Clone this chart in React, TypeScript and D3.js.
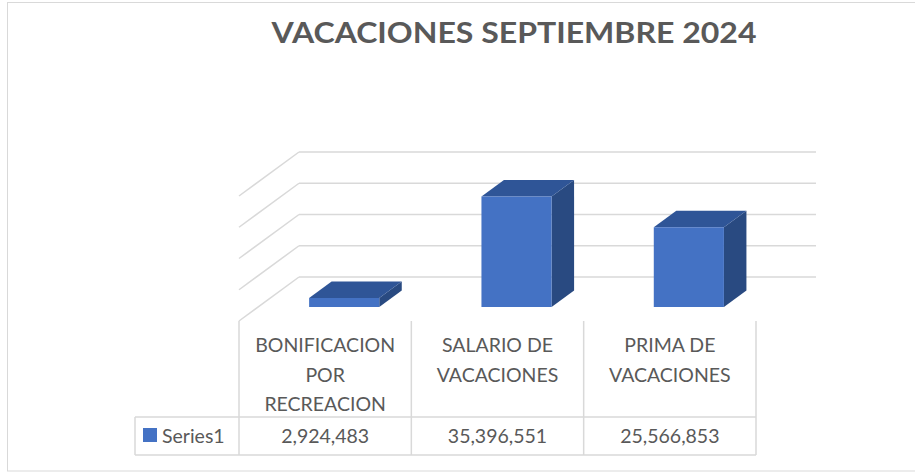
import React from "react";
import * as d3 from "d3";

const title = "VACACIONES SEPTIEMBRE 2024";
const categories = ["BONIFICACION POR RECREACION", "SALARIO DE VACACIONES", "PRIMA DE VACACIONES"];
const categoryLines = [["BONIFICACION", "POR", "RECREACION"], ["SALARIO DE", "VACACIONES"], ["PRIMA DE", "VACACIONES"]];
const seriesName = "Series1";
const values = [2924483, 35396551, 25566853];
const yTicks = [0, 10000000, 20000000, 30000000, 40000000];

const W = 915;
const H = 472;
const FONT = "Lato, 'Noto Sans', sans-serif";
const TEXT = "#595959";
const GRID = "#D9D9D9";
const FRONT = "#4472C4";
const TOP = "#2F5597";
const SIDE = "#294A81";

export default function App() {
  // front plane of floor: x from 239 to 756, depth vector (60,-44)
  const x = d3.scaleBand<string>().domain(categories).range([239, 756]);
  const yBack = d3.scaleLinear().domain([0, 40000000]).range([277, 152]);
  const DX = 60;
  const DY = -44;
  const proj = (px: number, v: number, d: number): [number, number] => [
    px + DX * d,
    yBack(v) - DY + DY * d,
  ];
  const d0 = 0.317;
  const d1 = 0.692;
  const bw = x.bandwidth() * 0.407;
  const fmt = d3.format(",");

  const bars = categories.map((c, i) => {
    const cx = (x(c) as number) + x.bandwidth() / 2;
    const xl = cx - bw / 2;
    const xr = cx + bw / 2;
    const v = values[i];
    const p = (px: number, val: number, d: number) => proj(px, val, d).join(",");
    const front = [p(xl, 0, d0), p(xr, 0, d0), p(xr, v, d0), p(xl, v, d0)].join(" ");
    const top = [p(xl, v, d0), p(xr, v, d0), p(xr, v, d1), p(xl, v, d1)].join(" ");
    const side = [p(xr, 0, d0), p(xr, 0, d1), p(xr, v, d1), p(xr, v, d0)].join(" ");
    return { c, front, top, side };
  });

  const [x0, x1] = x.range();
  const tableTop = proj(x0, 0, 0)[1];
  const rowY = 417;
  const tableBottom = 455;
  const labelLeft = 135;

  return (
    <svg
      width={W}
      height={H}
      viewBox={`0 0 ${W} ${H}`}
      style={{ position: "absolute", left: 0, top: 0, background: "#fff" }}
    >
      <rect x={7.5} y={2.5} width={W} height={468.5} fill="#fff" stroke={GRID} strokeWidth={1} />
      <text
        x={514}
        y={43}
        textAnchor="middle"
        fontFamily={FONT}
        fontWeight={700}
        fontSize={29}
        fill={TEXT}
        textLength={485}
        lengthAdjust="spacingAndGlyphs"
      >
        {title}
      </text>

      {/* back wall gridlines and side wall diagonals */}
      {yTicks.map((t) => {
        const [bx0, by] = proj(x0, t, 1);
        const [bx1] = proj(x1, t, 1);
        const [fx, fy] = proj(x0, t, 0);
        return (
          <g key={t}>
            <line x1={bx0} y1={by} x2={bx1} y2={by} stroke={GRID} strokeWidth={1.5} />
            <line x1={bx0} y1={by} x2={fx} y2={fy} stroke={GRID} strokeWidth={1.5} />
          </g>
        );
      })}

      {bars.map((b) => (
        <g key={b.c}>
          <polygon points={b.side} fill={SIDE} />
          <polygon points={b.top} fill={TOP} />
          <polygon points={b.front} fill={FRONT} />
        </g>
      ))}

      {/* data table */}
      <g stroke={GRID} strokeWidth={1.5}>
        {categories.map((c) => (
          <line key={c} x1={x(c)} y1={tableTop} x2={x(c)} y2={tableBottom} />
        ))}
        <line x1={x1} y1={tableTop} x2={x1} y2={tableBottom} />
        <line x1={labelLeft} y1={rowY} x2={labelLeft} y2={tableBottom} />
        <line x1={labelLeft} y1={rowY} x2={x1} y2={rowY} />
        <line x1={labelLeft} y1={tableBottom} x2={x1} y2={tableBottom} />
      </g>
      {categories.map((c, i) => {
        const cx = (x(c) as number) + x.bandwidth() / 2;
        return (
          <g key={c} fontFamily={FONT} fontSize={19.5} fill={TEXT} textAnchor="middle">
            {categoryLines[i].map((ln, j) => (
              <text key={j} x={cx} y={352 + j * 29.5}>
                {ln}
              </text>
            ))}
            <text x={cx} y={443}>
              {fmt(values[i])}
            </text>
          </g>
        );
      })}
      <rect x={143} y={428} width={14} height={14} fill={FRONT} />
      <text x={162} y={443} fontFamily={FONT} fontSize={19.5} fill={TEXT}>
        {seriesName}
      </text>
    </svg>
  );
}
